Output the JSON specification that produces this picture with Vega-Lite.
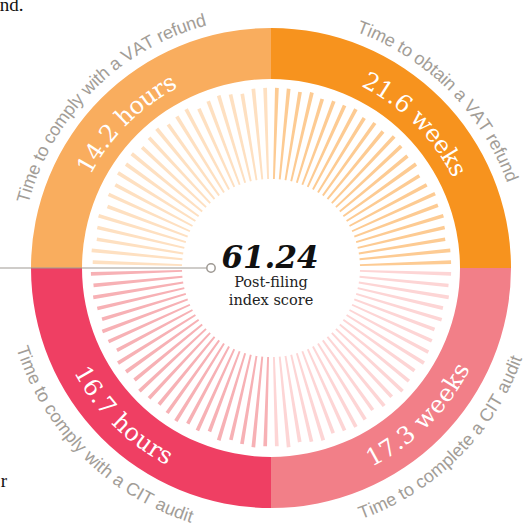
{
  "$schema": "https://vega.github.io/schema/vega-lite/v6.json",
  "width": 508,
  "height": 512,
  "autosize": {"type": "none"},
  "padding": {"left": 17, "top": 12, "right": 0, "bottom": 0},
  "background": "white",
  "config": {"view": {"stroke": null}},
  "datasets": {
    "parts": [
      {"q": "obtainVAT", "order": 1, "weight": 25, "metric": "Time to obtain a VAT refund", "amount": "21.6 weeks"},
      {"q": "completeCIT", "order": 2, "weight": 25, "metric": "Time to complete a CIT audit", "amount": "17.3 weeks"},
      {"q": "complyCIT", "order": 3, "weight": 25, "metric": "Time to comply with a CIT audit", "amount": "16.7 hours"},
      {"q": "complyVAT", "order": 4, "weight": 25, "metric": "Time to comply with a VAT refund", "amount": "14.2 hours"}
    ],
    "bars": [
      {"q":"obtainVAT","i":0,"v":99},{"q":"obtainVAT","i":1,"v":99},{"q":"obtainVAT","i":2,"v":98},{"q":"obtainVAT","i":3,"v":99},
      {"q":"obtainVAT","i":4,"v":97},{"q":"obtainVAT","i":5,"v":98},{"q":"obtainVAT","i":6,"v":98},{"q":"obtainVAT","i":7,"v":99},
      {"q":"obtainVAT","i":8,"v":97},{"q":"obtainVAT","i":9,"v":98},{"q":"obtainVAT","i":10,"v":97},{"q":"obtainVAT","i":11,"v":99},
      {"q":"obtainVAT","i":12,"v":98},{"q":"obtainVAT","i":13,"v":97},{"q":"obtainVAT","i":14,"v":98},{"q":"obtainVAT","i":15,"v":96},
      {"q":"obtainVAT","i":16,"v":97},{"q":"obtainVAT","i":17,"v":99},{"q":"obtainVAT","i":18,"v":98},{"q":"obtainVAT","i":19,"v":99},
      {"q":"obtainVAT","i":20,"v":98},{"q":"obtainVAT","i":21,"v":97},{"q":"obtainVAT","i":22,"v":99},{"q":"obtainVAT","i":23,"v":99},
      {"q":"completeCIT","i":24,"v":99},{"q":"completeCIT","i":25,"v":98},{"q":"completeCIT","i":26,"v":99},{"q":"completeCIT","i":27,"v":97},
      {"q":"completeCIT","i":28,"v":98},{"q":"completeCIT","i":29,"v":96},{"q":"completeCIT","i":30,"v":97},{"q":"completeCIT","i":31,"v":98},
      {"q":"completeCIT","i":32,"v":99},{"q":"completeCIT","i":33,"v":97},{"q":"completeCIT","i":34,"v":98},{"q":"completeCIT","i":35,"v":99},
      {"q":"completeCIT","i":36,"v":97},{"q":"completeCIT","i":37,"v":98},{"q":"completeCIT","i":38,"v":96},{"q":"completeCIT","i":39,"v":98},
      {"q":"completeCIT","i":40,"v":99},{"q":"completeCIT","i":41,"v":98},{"q":"completeCIT","i":42,"v":97},{"q":"completeCIT","i":43,"v":99},
      {"q":"completeCIT","i":44,"v":98},{"q":"completeCIT","i":45,"v":97},{"q":"completeCIT","i":46,"v":99},{"q":"completeCIT","i":47,"v":98},
      {"q":"complyCIT","i":48,"v":98},{"q":"complyCIT","i":49,"v":99},{"q":"complyCIT","i":50,"v":98},{"q":"complyCIT","i":51,"v":97},
      {"q":"complyCIT","i":52,"v":99},{"q":"complyCIT","i":53,"v":96},{"q":"complyCIT","i":54,"v":98},{"q":"complyCIT","i":55,"v":97},
      {"q":"complyCIT","i":56,"v":99},{"q":"complyCIT","i":57,"v":98},{"q":"complyCIT","i":58,"v":97},{"q":"complyCIT","i":59,"v":98},
      {"q":"complyCIT","i":60,"v":99},{"q":"complyCIT","i":61,"v":97},{"q":"complyCIT","i":62,"v":98},{"q":"complyCIT","i":63,"v":99},
      {"q":"complyCIT","i":64,"v":96},{"q":"complyCIT","i":65,"v":98},{"q":"complyCIT","i":66,"v":99},{"q":"complyCIT","i":67,"v":97},
      {"q":"complyCIT","i":68,"v":98},{"q":"complyCIT","i":69,"v":99},{"q":"complyCIT","i":70,"v":98},{"q":"complyCIT","i":71,"v":99},
      {"q":"complyVAT","i":72,"v":98},{"q":"complyVAT","i":73,"v":99},{"q":"complyVAT","i":74,"v":97},{"q":"complyVAT","i":75,"v":98},
      {"q":"complyVAT","i":76,"v":99},{"q":"complyVAT","i":77,"v":96},{"q":"complyVAT","i":78,"v":98},{"q":"complyVAT","i":79,"v":97},
      {"q":"complyVAT","i":80,"v":99},{"q":"complyVAT","i":81,"v":98},{"q":"complyVAT","i":82,"v":99},{"q":"complyVAT","i":83,"v":97},
      {"q":"complyVAT","i":84,"v":98},{"q":"complyVAT","i":85,"v":99},{"q":"complyVAT","i":86,"v":97},{"q":"complyVAT","i":87,"v":98},
      {"q":"complyVAT","i":88,"v":99},{"q":"complyVAT","i":89,"v":96},{"q":"complyVAT","i":90,"v":98},{"q":"complyVAT","i":91,"v":99},
      {"q":"complyVAT","i":92,"v":98},{"q":"complyVAT","i":93,"v":97},{"q":"complyVAT","i":94,"v":99},{"q":"complyVAT","i":95,"v":99}
    ],
    "center": [
      {"role": "score", "t": "61.24"},
      {"role": "caption", "t": "Post-filing\nindex score"}
    ],
    "pointer": [
      {"x": -1.2, "x2": -0.268, "y": 0, "mx": -0.25}
    ],
    "fragments": [
      {"t": "nd.", "x": -1.13, "y": 1.071},
      {"t": "r", "x": -1.126, "y": -0.9125}
    ]
  },
  "layer": [
    {
      "data": {"name": "parts"},
      "mark": {"type": "arc", "radius": 240, "radius2": 189},
      "encoding": {
        "theta": {"field": "weight", "type": "quantitative", "stack": true},
        "order": {"field": "order", "type": "quantitative"},
        "color": {
          "field": "q", "type": "nominal", "legend": null,
          "scale": {"domain": ["obtainVAT", "completeCIT", "complyCIT", "complyVAT"], "range": ["#F7931E", "#F27F88", "#EF3F63", "#F9AD5E"]}
        }
      }
    },
    {
      "data": {"name": "bars"},
      "mark": {"type": "arc", "radius2": 89, "thetaOffset": 0.0223, "theta2Offset": 0.0432},
      "encoding": {
        "theta": {"field": "i", "type": "quantitative", "scale": {"domain": [0, 96]}, "stack": null},
        "theta2": {"field": "i"},
        "radius": {"field": "v", "type": "quantitative", "scale": {"type": "linear", "domain": [0, 100], "range": [0, 182], "zero": true}},
        "color": {
          "field": "q", "type": "nominal", "legend": null,
          "scale": {"domain": ["obtainVAT", "completeCIT", "complyCIT", "complyVAT"], "range": ["#FDCB93", "#FDD5D5", "#F7B1B5", "#FEE0C1"]}
        }
      }
    },
    {
      "data": {"name": "parts"},
      "transform": [
        {"fold": ["metric", "amount"], "as": ["kind", "txt"]},
        {"calculate": "split(datum.txt, '')", "as": "chars"},
        {"flatten": ["chars"], "as": ["ch"]},
        {"calculate": "datum.kind == 'metric' ? (indexof('ijl', datum.ch) >= 0 ? 0.222 : indexof(' tfI', datum.ch) >= 0 ? 0.278 : datum.ch == 'r' ? 0.333 : indexof('cyk', datum.ch) >= 0 ? 0.5 : datum.ch == 'T' ? 0.611 : indexof('VA', datum.ch) >= 0 ? 0.667 : indexof('wC', datum.ch) >= 0 ? 0.722 : datum.ch == 'm' ? 0.833 : 0.556) : (indexof('. ', datum.ch) >= 0 ? 0.318 : datum.ch == 'w' ? 0.856 : datum.ch == 'r' ? 0.478 : datum.ch == 's' ? 0.513 : indexof('eo', datum.ch) >= 0 ? 0.597 : datum.ch == 'k' ? 0.609 : 0.64)", "as": "w"},
        {"joinaggregate": [{"op": "sum", "field": "w", "as": "tot"}], "groupby": ["q", "kind"]},
        {"window": [{"op": "sum", "field": "w", "as": "cum"}], "groupby": ["q", "kind"], "frame": [null, 0]},
        {"calculate": "(datum.order == 2 || datum.order == 3) ? -1 : 1", "as": "sg"},
        {"calculate": "datum.kind == 'metric' ? 18 : 24", "as": "fs"},
        {"calculate": "datum.kind == 'metric' ? (datum.sg < 0 ? 262 : 256) : (datum.sg < 0 ? 216 : 210)", "as": "rr"},
        {"calculate": "(datum.order - 0.5) * PI / 2 + datum.sg * (datum.cum - datum.w / 2 - datum.tot / 2) * datum.fs / datum.rr", "as": "th"},
        {"calculate": "datum.th * 180 / PI - (datum.sg < 0 ? 180 : 0)", "as": "ang"}
      ],
      "layer": [
        {
          "transform": [{"filter": "datum.kind == 'metric'"}],
          "mark": {"type": "text", "font": "Liberation Sans", "fontSize": 18, "color": "#A29D97", "align": "center", "baseline": "middle"},
          "encoding": {
            "theta": {"field": "th", "type": "quantitative", "scale": null},
            "radius": {"field": "rr", "type": "quantitative", "scale": null},
            "angle": {"field": "ang", "type": "quantitative", "scale": null},
            "text": {"field": "ch", "type": "nominal"}
          }
        },
        {
          "transform": [{"filter": "datum.kind == 'amount'"}],
          "mark": {"type": "text", "font": "DejaVu Serif", "fontSize": 24, "color": "white", "align": "center", "baseline": "middle"},
          "encoding": {
            "theta": {"field": "th", "type": "quantitative", "scale": null},
            "radius": {"field": "rr", "type": "quantitative", "scale": null},
            "angle": {"field": "ang", "type": "quantitative", "scale": null},
            "text": {"field": "ch", "type": "nominal"}
          }
        }
      ]
    },
    {
      "data": {"name": "pointer"},
      "mark": {"type": "rule", "color": "#9E9993", "strokeWidth": 1},
      "encoding": {
        "x": {"field": "x", "type": "quantitative", "scale": {"domain": [-1.0583, 1.0583]}, "axis": null},
        "x2": {"field": "x2"},
        "y": {"field": "y", "type": "quantitative", "scale": {"domain": [-1.0667, 1.0667]}, "axis": null}
      }
    },
    {
      "data": {"name": "pointer"},
      "mark": {"type": "point", "shape": "circle", "size": 70, "filled": false, "fill": "white", "fillOpacity": 1, "stroke": "#9E9993", "strokeWidth": 1.5, "opacity": 1},
      "encoding": {
        "x": {"field": "mx", "type": "quantitative", "scale": {"domain": [-1.0583, 1.0583]}, "axis": null},
        "y": {"field": "y", "type": "quantitative", "scale": {"domain": [-1.0667, 1.0667]}, "axis": null}
      }
    },
    {
      "data": {"name": "center"},
      "transform": [{"filter": "datum.role == 'score'"}],
      "mark": {"type": "text", "font": "DejaVu Serif", "fontWeight": "bold", "fontStyle": "italic", "fontSize": 31, "color": "#111111", "align": "center", "baseline": "alphabetic", "dx": -1},
      "encoding": {
        "x": {"datum": 0, "type": "quantitative", "scale": {"domain": [-1.0583, 1.0583]}, "axis": null},
        "y": {"datum": 0, "type": "quantitative", "scale": {"domain": [-1.0667, 1.0667]}, "axis": null},
        "text": {"field": "t", "type": "nominal"}
      }
    },
    {
      "data": {"name": "center"},
      "transform": [{"filter": "datum.role == 'caption'"}],
      "mark": {"type": "text", "font": "DejaVu Serif", "fontSize": 14.5, "color": "#222222", "align": "center", "baseline": "alphabetic", "dy": 19, "lineHeight": 18, "lineBreak": "\n"},
      "encoding": {
        "x": {"datum": 0, "type": "quantitative", "scale": {"domain": [-1.0583, 1.0583]}, "axis": null},
        "y": {"datum": 0, "type": "quantitative", "scale": {"domain": [-1.0667, 1.0667]}, "axis": null},
        "text": {"field": "t", "type": "nominal"}
      }
    },
    {
      "data": {"name": "fragments"},
      "mark": {"type": "text", "font": "Liberation Serif", "fontSize": 19, "color": "#111111", "align": "left", "baseline": "alphabetic"},
      "encoding": {
        "x": {"field": "x", "type": "quantitative", "scale": {"domain": [-1.0583, 1.0583]}, "axis": null},
        "y": {"field": "y", "type": "quantitative", "scale": {"domain": [-1.0667, 1.0667]}, "axis": null},
        "text": {"field": "t", "type": "nominal"}
      }
    }
  ],
  "resolve": {"scale": {"theta": "independent", "radius": "independent", "color": "independent"}}
}
